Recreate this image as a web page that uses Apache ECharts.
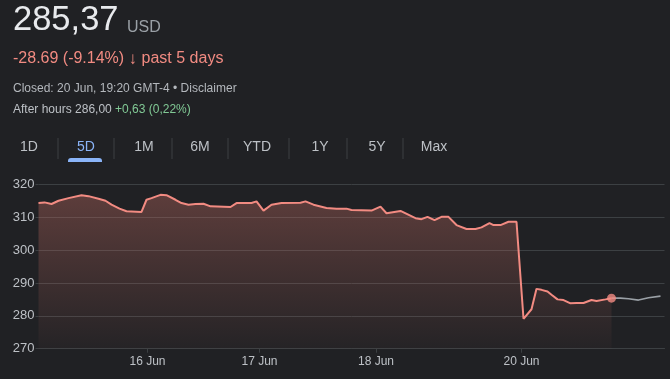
<!DOCTYPE html>
<html><head><meta charset="utf-8">
<script src="https://cdn.jsdelivr.net/npm/echarts/dist/echarts.min.js"></script>
<style>html,body{margin:0;padding:0;background:#202124;}#c{width:670px;height:379px;}</style>
</head><body><div id="c"></div>
<script>
// time slots (intraday positions across the 5 trading days)
const slot = [0,6,13,20,30,43,50,60,67,73,81,88,103,108,113,122,128,137,143,150,157,165,172,192,198,213,218,225,233,243,262,267,275,288,298,308,313,333,342,348,362,377,383,389,396,403,410,418,428,437,443,451,455,462,470,478,485,493,498,503,509,513,519,525,532,538,545,553,558,567,573];
const price = [314.3,314.5,314.0,315.0,315.8,316.7,316.4,315.6,315.0,313.8,312.6,311.8,311.6,315.3,315.8,316.8,316.7,315.3,314.3,313.8,314.0,314.1,313.3,313.1,314.3,314.3,314.8,312.0,313.8,314.3,314.4,314.8,313.8,312.8,312.6,312.6,312.2,312.0,313.2,311.2,311.9,309.7,309.4,310.1,309.1,310.1,310.1,307.6,306.4,306.4,306.9,308.2,307.6,307.6,308.6,308.6,279.1,282.0,288.2,287.9,287.4,286.4,285.0,284.8,283.8,283.9,283.9,284.8,284.5,285.0,285.37];
const afterSlot = [573,582,590,600,610,622];
const afterPrice = [285.37,285.4,285.2,284.8,285.5,286.0];
const daySlots = [109,221,337.5,483];
const dayLabels = ['16 Jun','17 Jun','18 Jun','20 Jun'];
const tabs = ['1D','5D','1M','6M','YTD','1Y','5Y','Max'];
const tabCenters = [29,86,144,200,257,320,377,434];
const sepX = [58,114,172,228,289,347,403];

const FONT = "'Liberation Sans', Arial, sans-serif";
const chart = echarts.init(document.getElementById('c'), null, {renderer:'canvas'});
const graphic = [
  {type:'text', x:13, y:20, style:{text:'285,37', fill:'#e8eaed', font:'34.5px '+FONT, verticalAlign:'middle'}},
  {type:'text', x:127, y:27.5, style:{text:'USD', fill:'#9aa0a6', font:'16px '+FONT, verticalAlign:'middle'}},
  {type:'text', x:13, y:59, style:{text:'{a|-28.69 (-9.14%) }{b|\u2193}{a| past 5 days}', font:'16px '+FONT, verticalAlign:'middle',
     rich:{a:{fill:'#f28b82', font:'16px '+FONT}, b:{fill:'#f28b82', font:'bold 17px '+FONT}}}},
  {type:'text', x:13, y:89, style:{text:'Closed: 20 Jun, 19:20 GMT-4 \u2022 Disclaimer', fill:'#b4b8bd', font:'12px '+FONT, verticalAlign:'middle'}},
  {type:'text', x:13, y:110, style:{text:'{a|After hours 286,00 }{b|+0,63 (0,22%)}', font:'12px '+FONT, verticalAlign:'middle',
     rich:{a:{fill:'#bdc1c6', font:'12px '+FONT}, b:{fill:'#81c995', font:'12px '+FONT}}}},
  {type:'rect', shape:{x:68, y:158, width:34, height:4, r:[3,3,0,0]}, style:{fill:'#8ab4f8'}}
];
tabs.forEach((t,i)=>{
  graphic.push({type:'text', x:tabCenters[i], y:147, style:{text:t, fill: t==='5D' ? '#8ab4f8' : '#bdc1c6', font:'14px '+FONT, align:'center', verticalAlign:'middle'}});
});
sepX.forEach(x=>{
  graphic.push({type:'line', shape:{x1:x, y1:138, x2:x, y2:159}, style:{stroke:'#3c4043', lineWidth:1}});
});

chart.setOption({
  backgroundColor:'#202124',
  animation:false,
  graphic: graphic,
  grid:{left:38.5, right:5.5, top:184.3, bottom:30.3},
  xAxis:{type:'value', min:0, max:626,
    axisLine:{show:true, lineStyle:{color:'#3c4043'}},
    splitLine:{show:false},
    axisTick:{show:true, customValues:daySlots, length:4, lineStyle:{color:'#3c4043'}},
    axisLabel:{customValues:daySlots, color:'#bdc1c6', fontSize:12, fontFamily:FONT, margin:7,
      formatter:v=>{const i=daySlots.indexOf(v); return i>=0?dayLabels[i]:'';}}
  },
  yAxis:{type:'value', min:270, max:320, interval:10,
    axisLine:{show:false},
    axisTick:{show:true, length:3, lineStyle:{color:'#3c4043'}},
    splitLine:{lineStyle:{color:'#3c4043'}},
    axisLabel:{color:'#bdc1c6', fontSize:13, fontFamily:FONT, margin:4}
  },
  series:[
    {type:'line', data:slot.map((s,i)=>[s,price[i]]), showSymbol:false, symbol:'none',
      lineStyle:{color:'#f28b82', width:2}, 
      areaStyle:{opacity:1, color:new echarts.graphic.LinearGradient(0,0,0,1,[{offset:0,color:'rgba(200,110,100,0.36)'},{offset:1,color:'rgba(200,110,100,0.03)'}])},
      z:3},
    {type:'line', data:afterSlot.map((s,i)=>[s,afterPrice[i]]), showSymbol:false, symbol:'none',
      lineStyle:{color:'#9aa0a6', width:1.7}, z:2},
    {type:'scatter', data:[[slot[slot.length-1], price[price.length-1]]], symbolSize:9,
      itemStyle:{color:'#f28b82'}, z:4}
  ]
});
</script></body></html>
